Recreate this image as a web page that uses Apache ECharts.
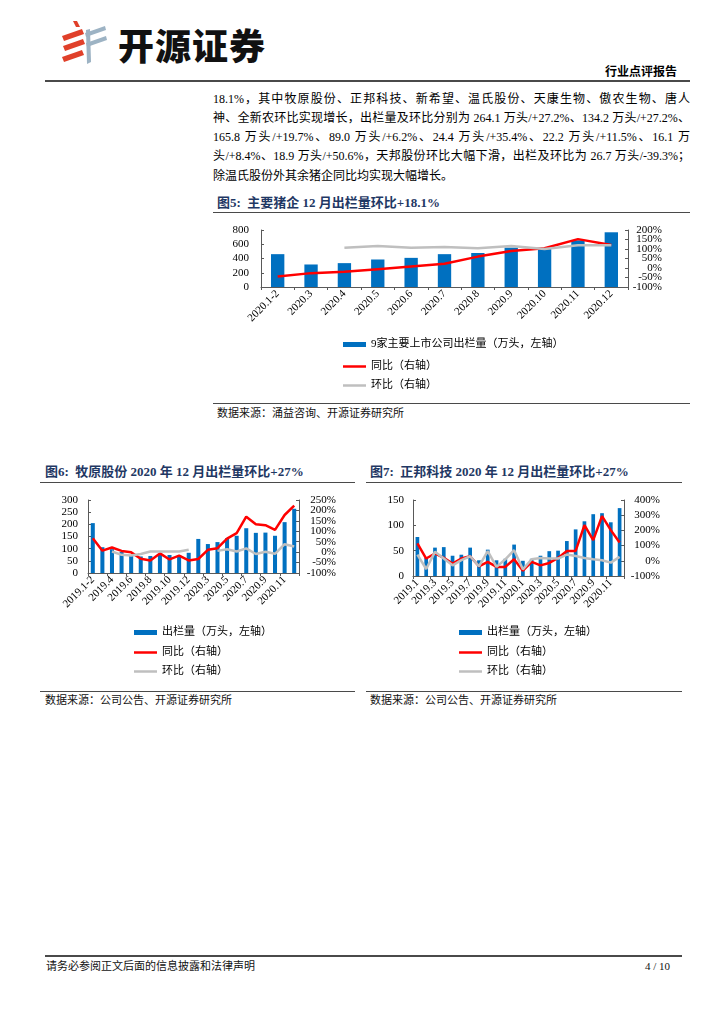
<!DOCTYPE html>
<html><head><meta charset="utf-8">
<script src="https://cdn.jsdelivr.net/npm/echarts/dist/echarts.min.js"></script>
<style>
body{margin:0;width:724px;height:1024px;background:#fff;position:relative;overflow:hidden;font-family:"Liberation Serif","Noto Sans CJK SC",serif;color:#000;}
.abs{position:absolute;white-space:nowrap;}
.hl{position:absolute;height:0;border-top:1.5px solid #4a4a4a;}
.title{font-size:13px;line-height:13px;font-weight:bold;color:#1F3864;}
.src{font-size:11px;line-height:11px;color:#111;}
.pl{position:absolute;left:213px;width:477px;font-size:12px;line-height:12px;text-align:justify;text-align-last:justify;white-space:nowrap;}
.chart{position:absolute;}
</style></head>
<body>
<svg class="abs" style="left:0;top:0" width="120" height="80">
  <polygon points="73,21 77,21 80,27 76,27" fill="#e0402a"/>
  <polygon points="62,36 82,29 84,34 64,41" fill="#e0402a"/>
  <polygon points="63,46 83,39 85,44 65,51" fill="#e0402a"/>
  <polygon points="62,57 82,50 84,55 64,62" fill="#e0402a"/>
  <polygon points="85,33 105,26 106,30 86,37" fill="#9db3c4"/>
  <polygon points="86,43 106,36 107,40 87,47" fill="#9db3c4"/>
  <polygon points="86,30 90,29 91,62 87,64" fill="#9db3c4"/>
</svg>
<div class="abs" style="left:118px;top:25px;font-size:36px;line-height:38px;font-weight:900;font-family:'Noto Sans CJK SC';letter-spacing:1px;color:#111;">开源证券</div>
<div class="abs" style="left:605px;top:66px;font-size:12px;line-height:12px;font-weight:bold;">行业点评报告</div>
<div class="hl" style="left:45px;top:80px;width:645px;border-top-width:2px;"></div>

<div class="pl" style="top:93px;">18.1%，其中牧原股份、正邦科技、新希望、温氏股份、天康生物、傲农生物、唐人</div>
<div class="pl" style="top:112px;">神、全新农环比实现增长，出栏量及环比分别为 264.1 万头/+27.2%、134.2 万头/+27.2%、</div>
<div class="pl" style="top:131px;">165.8 万头/+19.7%、89.0 万头/+6.2%、24.4 万头/+35.4%、22.2 万头/+11.5%、16.1 万</div>
<div class="pl" style="top:150px;">头/+8.4%、18.9 万头/+50.6%，天邦股份环比大幅下滑，出栏及环比为 26.7 万头/-39.3%；</div>
<div class="pl" style="top:170px;text-align-last:left;">除温氏股份外其余猪企同比均实现大幅增长。</div>

<div class="abs title" style="left:217px;top:196px;">图5:&nbsp; 主要猪企 12 月出栏量环比+18.1%</div>
<div class="hl" style="left:213px;top:212px;width:477px;"></div>
<div id="c5" class="chart" style="left:213px;top:215px;width:477px;height:185px;"></div>
<div class="hl" style="left:213px;top:403px;width:477px;"></div>
<div class="abs src" style="left:217px;top:408px;">数据来源：涌益咨询、开源证券研究所</div>

<div class="abs title" style="left:45px;top:465px;">图6:&nbsp; 牧原股份 2020 年 12 月出栏量环比+27%</div>
<div class="hl" style="left:40px;top:482px;width:315px;"></div>
<div id="c6" class="chart" style="left:40px;top:485px;width:318px;height:200px;"></div>
<div class="hl" style="left:40px;top:691px;width:315px;"></div>
<div class="abs src" style="left:45px;top:695px;">数据来源：公司公告、开源证券研究所</div>

<div class="abs title" style="left:370px;top:465px;">图7:&nbsp; 正邦科技 2020 年 12 月出栏量环比+27%</div>
<div class="hl" style="left:366px;top:482px;width:316px;"></div>
<div id="c7" class="chart" style="left:365px;top:485px;width:320px;height:200px;"></div>
<div class="hl" style="left:366px;top:691px;width:316px;"></div>
<div class="abs src" style="left:370px;top:695px;">数据来源：公司公告、开源证券研究所</div>

<div class="hl" style="left:45px;top:955px;width:637px;border-top-width:2px;"></div>
<div class="abs src" style="left:46px;top:961px;">请务必参阅正文后面的信息披露和法律声明</div>
<div class="abs src" style="left:645px;top:961px;">4 / 10</div>

<script>
// ---- Data: Figure 5 ----
const cats5 = ['2020.1-2','2020.3','2020.4','2020.5','2020.6','2020.7','2020.8','2020.9','2020.10','2020.11','2020.12'];
const vol5 = [461, 316, 335, 386, 409, 461, 477, 553, 548, 655, 768];
const yoy5 = [-45, -27, -20, -6, 8, 22, 60, 90, 104, 152, 121];
const mom5 = [null, null, 106, 116, 106, 111, 104, 116, 100, 120, 120];

// ---- Data: Figure 6 ----
const cats6 = ['2019.1-2','2019.3','2019.4','2019.5','2019.6','2019.7','2019.8','2019.9','2019.10','2019.11','2019.12',
               '2020.1-2','2020.3','2020.4','2020.5','2020.6','2020.7','2020.8','2020.9','2020.10','2020.11','2020.12'];
const vol6 = [205, 106, 98, 86, 74, 68, 70, 78, 74, 74, 83, 140, 119, 127, 143, 153, 184, 165, 166, 153, 209, 264];
const yoy6 = [67, 7, 22, 6, -1, -32, -40, -6, -35, -17, -40, -33, 11, 19, 65, 91, 170, 134, 129, 107, 178, 223];
const mom6 = [null, null, 3, -13, -16, -9, 3, 3, 3, 3, 11, null, null, 6, 14, 3, 18, -9, 2, -8, 38, 27];

// ---- Data: Figure 7 ----
const cats7 = ['2019.1','2019.2','2019.3','2019.4','2019.5','2019.6','2019.7','2019.8','2019.9','2019.10','2019.11','2019.12',
               '2020.1','2020.2','2020.3','2020.4','2020.5','2020.6','2020.7','2020.8','2020.9','2020.10','2020.11','2020.12'];
const vol7 = [77, 36, 56, 57, 40, 42, 56, 31, 52, 31, 34, 62, 30, 34, 40, 49, 50, 69, 92, 108, 122, 124, 106, 134];
const yoy7 = [114, 15, 48, 19, -18, 15, 30, -36, -7, -40, -40, 10, -65, -7, -30, -14, 19, 65, 65, 235, 136, 294, 202, 120];
const mom7 = [41, -54, 59, 15, -30, 4, 30, -36, 63, -40, 10, 70, -56, 10, 19, 15, 15, 41, 32, 19, 10, 4, -12, 26];

// ---- Axis ranges and right-axis tick labels ----
const left5 = {min: 0, max: 800, interval: 200};
const right5 = {min: -100, max: 200, interval: 50};
const rightTicks5 = ['-100%', '-50%', '0%', '50%', '100%', '150%', '200%'];
const left6 = {min: 0, max: 300, interval: 50};
const right6 = {min: -100, max: 250, interval: 50};
const rightTicks6 = ['-100%', '-50%', '0%', '50%', '100%', '150%', '200%', '250%'];
const left7 = {min: 0, max: 150, interval: 50};
const right7 = {min: -100, max: 400, interval: 100};
const rightTicks7 = ['-100%', '0%', '100%', '200%', '300%', '400%'];

const FONT = '"Liberation Serif","Noto Sans CJK SC",serif';
const AX = '#595959';

function build(c) {
  const legendBase = {
    orient: 'horizontal', left: c.legLeft, padding: 0, itemWidth: 23, itemHeight: 5,
    selectedMode: false, textStyle: {fontSize: 11, fontFamily: FONT, color: '#000'}
  };
  const lab = {fontSize: 11, fontFamily: FONT, color: '#000', showMinLabel: true, showMaxLabel: true};
  return {
    animation: false,
    grid: {left: c.grid[0], top: c.grid[1], width: c.grid[2], height: c.grid[3]},
    xAxis: {
      type: 'category', data: c.cats, boundaryGap: true,
      axisLine: {lineStyle: {color: AX, width: 1}},
      axisTick: {show: true, length: 3, lineStyle: {color: AX}},
      axisLabel: {rotate: 45, interval: c.labInt, fontSize: 11, fontFamily: FONT, color: '#000', margin: 5}
    },
    yAxis: [
      {type: 'value', min: c.left.min, max: c.left.max, interval: c.left.interval,
       splitLine: {show: false},
       axisLine: {show: true, lineStyle: {color: AX}},
       axisTick: {show: true, inside: true, length: 3, lineStyle: {color: AX}},
       axisLabel: Object.assign({}, lab, {margin: c.lm})},
      {type: 'value', position: 'right', min: c.right.min, max: c.right.max, interval: c.right.interval,
       splitLine: {show: false},
       axisLine: {show: true, lineStyle: {color: AX}},
       axisTick: {show: true, inside: true, length: 3, lineStyle: {color: AX}},
       axisLabel: {show: false}},
      // label track for the right axis (same positions as the value ticks above)
      {type: 'category', position: 'right', data: c.rticks, boundaryGap: false,
       axisLine: {show: false}, axisTick: {show: false}, splitLine: {show: false},
       axisLabel: Object.assign({}, lab, {interval: 0, margin: c.rm, align: 'right'})}
    ],
    legend: [
      Object.assign({}, legendBase, {top: c.legTop[0], data: [{name: c.barName, icon: 'rect'}]}),
      Object.assign({}, legendBase, {top: c.legTop[1] + 1, itemHeight: 2.5, data: [{name: '同比（右轴）', icon: 'rect'}]}),
      Object.assign({}, legendBase, {top: c.legTop[2] + 1, itemHeight: 2.5, data: [{name: '环比（右轴）', icon: 'rect'}]})
    ],
    series: [
      {name: c.barName, type: 'bar', data: c.vol, barWidth: c.bw, itemStyle: {color: '#0070C0'}},
      {name: '同比（右轴）', type: 'line', yAxisIndex: 1, data: c.yoy, symbol: 'none', showSymbol: false,
       lineStyle: {color: '#FF0000', width: 2.5}, itemStyle: {color: '#FF0000'}},
      {name: '环比（右轴）', type: 'line', yAxisIndex: 1, data: c.mom, symbol: 'none', showSymbol: false,
       connectNulls: false, lineStyle: {color: '#BFBFBF', width: 2.5}, itemStyle: {color: '#BFBFBF'}}
    ]
  };
}

echarts.init(document.getElementById('c5')).setOption(build({
  cats: cats5, vol: vol5, yoy: yoy5, mom: mom5, left: left5, right: right5, rticks: rightTicks5,
  grid: [48, 15, 367, 57], labInt: 0, lm: 12, rm: 34, bw: '40%',
  barName: '9家主要上市公司出栏量（万头，左轴）', legLeft: 130, legTop: [124, 145, 164]
}));
echarts.init(document.getElementById('c6')).setOption(build({
  cats: cats6, vol: vol6, yoy: yoy6, mom: mom6, left: left6, right: right6, rticks: rightTicks6,
  grid: [48, 15, 211, 73], labInt: 1, lm: 10, rm: 37, bw: '42%',
  barName: '出栏量（万头，左轴）', legLeft: 94, legTop: [142, 161, 180]
}));
echarts.init(document.getElementById('c7')).setOption(build({
  cats: cats7, vol: vol7, yoy: yoy7, mom: mom7, left: left7, right: right7, rticks: rightTicks7,
  grid: [48, 15, 211, 76], labInt: 1, lm: 9, rm: 36, bw: '42%',
  barName: '出栏量（万头，左轴）', legLeft: 94, legTop: [142, 161, 180]
}));
</script>
</body></html>
